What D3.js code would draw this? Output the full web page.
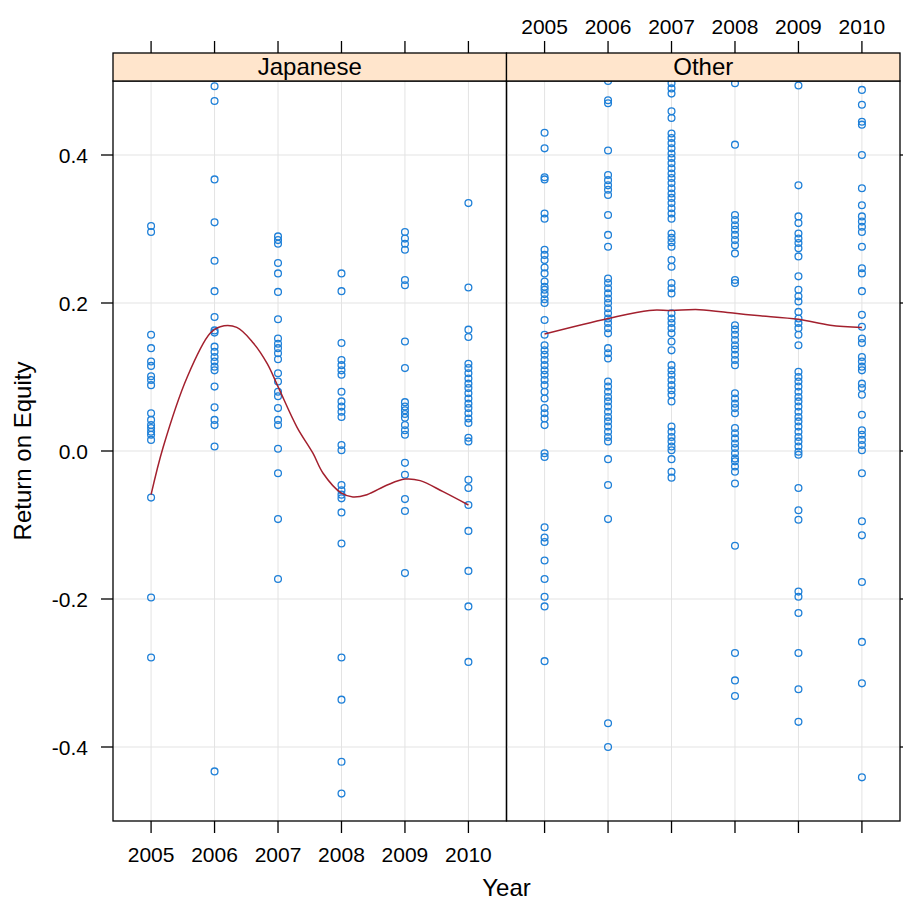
<!DOCTYPE html>
<html>
<head>
<meta charset="utf-8">
<script src="https://cdnjs.cloudflare.com/ajax/libs/d3/7.8.5/d3.min.js"></script>
<style>
  body { margin: 0; background: #fff; }
  text { font-family: "Liberation Sans", Arial, sans-serif; fill: #000; }
</style>
</head>
<body>
<svg id="chart"></svg>
<script>
// panels + years
const panels = ["Japanese", "Other"];
const years = [2005, 2006, 2007, 2008, 2009, 2010];
const yTicks = [-0.4, -0.2, 0.0, 0.2, 0.4];
const yTickLabels = ["-0.4", "-0.2", "0.0", "0.2", "0.4"];

// Japanese firms, return on equity per year
const jp2005 = [0.304, 0.296, 0.157, 0.139, 0.121, 0.115, 0.101, 0.096, 0.089, 0.051, 0.042, 0.035, 0.031, 0.026, 0.022, 0.015, -0.063, -0.198, -0.279];
const jp2006 = [0.493, 0.473, 0.367, 0.309, 0.257, 0.216, 0.181, 0.163, 0.160, 0.141, 0.134, 0.127, 0.121, 0.114, 0.109, 0.087, 0.059, 0.042, 0.035, 0.006, -0.433];
const jp2007 = [0.290, 0.285, 0.280, 0.254, 0.240, 0.215, 0.178, 0.152, 0.145, 0.139, 0.132, 0.124, 0.105, 0.094, 0.080, 0.074, 0.058, 0.042, 0.035, 0.003, -0.030, -0.092, -0.173];
const jp2008 = [0.240, 0.216, 0.146, 0.123, 0.116, 0.109, 0.103, 0.080, 0.067, 0.060, 0.053, 0.046, 0.008, 0.001, -0.046, -0.053, -0.059, -0.064, -0.083, -0.125, -0.279, -0.336, -0.420, -0.463];
const jp2009 = [0.296, 0.287, 0.280, 0.272, 0.231, 0.224, 0.148, 0.112, 0.066, 0.060, 0.055, 0.050, 0.045, 0.035, 0.028, 0.022, -0.016, -0.032, -0.065, -0.081, -0.165];
const jp2010 = [0.335, 0.221, 0.164, 0.154, 0.118, 0.112, 0.105, 0.098, 0.091, 0.085, 0.078, 0.071, 0.064, 0.058, 0.051, 0.044, 0.038, 0.018, 0.013, -0.039, -0.050, -0.073, -0.108, -0.162, -0.210, -0.285];

// other firms
const ot2005 = [0.430, 0.409, 0.370, 0.367, 0.321, 0.314, 0.272, 0.265, 0.258, 0.248, 0.240, 0.229, 0.222, 0.218, 0.212, 0.205, 0.200, 0.177, 0.157, 0.143, 0.136, 0.130, 0.123, 0.116, 0.109, 0.103, 0.096, 0.089, 0.080, 0.071, 0.058, 0.051, 0.044, 0.035, -0.003, -0.008, -0.103, -0.117, -0.123, -0.148, -0.173, -0.197, -0.210, -0.284];
const ot2006 = [0.500, 0.474, 0.470, 0.406, 0.373, 0.366, 0.359, 0.353, 0.346, 0.319, 0.292, 0.276, 0.233, 0.227, 0.220, 0.213, 0.206, 0.200, 0.193, 0.186, 0.179, 0.173, 0.166, 0.159, 0.139, 0.132, 0.125, 0.094, 0.087, 0.080, 0.073, 0.067, 0.060, 0.053, 0.046, 0.040, 0.033, 0.026, 0.019, 0.013, -0.011, -0.046, -0.092, -0.368, -0.400];
const ot2007 = [0.497, 0.490, 0.483, 0.459, 0.450, 0.429, 0.423, 0.416, 0.409, 0.402, 0.396, 0.389, 0.382, 0.375, 0.369, 0.362, 0.355, 0.348, 0.342, 0.335, 0.328, 0.321, 0.314, 0.294, 0.288, 0.282, 0.276, 0.258, 0.249, 0.227, 0.220, 0.213, 0.186, 0.179, 0.173, 0.166, 0.159, 0.148, 0.136, 0.116, 0.109, 0.103, 0.096, 0.089, 0.082, 0.076, 0.067, 0.033, 0.026, 0.019, 0.013, 0.006, 0.001, -0.011, -0.028, -0.036];
const ot2008 = [0.497, 0.414, 0.319, 0.312, 0.305, 0.299, 0.292, 0.285, 0.278, 0.267, 0.231, 0.227, 0.170, 0.164, 0.157, 0.150, 0.143, 0.137, 0.130, 0.123, 0.116, 0.078, 0.071, 0.064, 0.058, 0.051, 0.031, 0.024, 0.017, 0.010, 0.004, -0.003, -0.010, -0.014, -0.021, -0.028, -0.044, -0.128, -0.273, -0.310, -0.331];
const ot2009 = [0.494, 0.359, 0.317, 0.308, 0.294, 0.287, 0.281, 0.274, 0.263, 0.236, 0.218, 0.209, 0.202, 0.188, 0.179, 0.173, 0.166, 0.157, 0.143, 0.107, 0.100, 0.094, 0.087, 0.080, 0.073, 0.067, 0.060, 0.053, 0.046, 0.040, 0.033, 0.026, 0.019, 0.013, 0.006, -0.001, -0.005, -0.050, -0.080, -0.093, -0.190, -0.197, -0.219, -0.273, -0.322, -0.366];
const ot2010 = [0.488, 0.468, 0.445, 0.441, 0.400, 0.355, 0.332, 0.317, 0.310, 0.303, 0.296, 0.276, 0.247, 0.240, 0.216, 0.184, 0.168, 0.152, 0.146, 0.127, 0.121, 0.114, 0.109, 0.091, 0.085, 0.076, 0.049, 0.028, 0.022, 0.015, 0.008, 0.001, -0.030, -0.095, -0.114, -0.177, -0.258, -0.314, -0.441];

// smoother lines
const jpSmoothYear = [2005, 2005.19, 2005.57, 2005.93, 2006.09, 2006.35, 2006.61, 2006.83, 2007, 2007.3, 2007.55, 2007.71, 2008, 2008.18, 2008.4, 2008.72, 2009, 2009.24, 2009.6, 2010];
const jpSmoothRoe = [-0.059, 0.005, 0.100, 0.159, 0.168, 0.167, 0.146, 0.118, 0.087, 0.032, -0.003, -0.030, -0.057, -0.062, -0.059, -0.046, -0.038, -0.040, -0.055, -0.073];
const otSmoothYear = [2005, 2006, 2006.65, 2007, 2007.44, 2008, 2008.35, 2009, 2009.5, 2010];
const otSmoothRoe = [0.158, 0.179, 0.190, 0.190, 0.191, 0.186, 0.183, 0.178, 0.170, 0.167];

const jpCols = [jp2005, jp2006, jp2007, jp2008, jp2009, jp2010];
const otCols = [ot2005, ot2006, ot2007, ot2008, ot2009, ot2010];

const W = 903, H = 903;
const plotLeft = 113, panelW = 393.5, plotTop = 81, plotBottom = 821, stripH = 28;
const tickLen = 12;
const pointCol = "#1f80d8", lineCol = "#a3202e", gridCol = "#e3e3e3";

const svg = d3.select("#chart").attr("width", W).attr("height", H);
svg.append("rect").attr("width", W).attr("height", H).attr("fill", "#fff");

const y = d3.scaleLinear().domain([-0.5, 0.5]).range([plotBottom, plotTop]);

function drawPanel(i, cols, smYear, smRoe) {
    let x0 = plotLeft + i * panelW;
    let x = d3.scaleLinear().domain([2004.4, 2010.6]).range([x0, x0 + panelW]);
    let g = svg.append("g");

    g.append("clipPath").attr("id", "clip" + i)
        .append("rect").attr("x", x0).attr("y", plotTop).attr("width", panelW).attr("height", plotBottom - plotTop);

    // grid
    g.selectAll(".vg").data(years).enter().append("line")
        .attr("x1", d => x(d)).attr("x2", d => x(d)).attr("y1", plotTop).attr("y2", plotBottom)
        .attr("stroke", gridCol).attr("stroke-width", 1);
    g.selectAll(".hg").data(yTicks).enter().append("line")
        .attr("x1", x0).attr("x2", x0 + panelW).attr("y1", d => y(d)).attr("y2", d => y(d))
        .attr("stroke", gridCol).attr("stroke-width", 1);

    let pts = [];
    cols.forEach((vals, j) => vals.forEach(v => pts.push({ yr: years[j], v: v })));

    g.append("g").attr("clip-path", `url(#clip${i})`)
        .selectAll("circle").data(pts).enter().append("circle")
        .attr("cx", d => x(d.yr)).attr("cy", d => y(d.v)).attr("r", 3.4)
        .attr("fill", "none").attr("stroke", pointCol).attr("stroke-width", 1.3);

    let line = d3.line().x(d => x(d[0])).y(d => y(d[1])).curve(d3.curveCatmullRom);
    g.append("path").datum(smYear.map((yr, k) => [yr, smRoe[k]]))
        .attr("d", line).attr("fill", "none").attr("stroke", lineCol).attr("stroke-width", 1.5);

    // frame
    g.append("rect").attr("x", x0).attr("y", plotTop).attr("width", panelW).attr("height", plotBottom - plotTop)
        .attr("fill", "none").attr("stroke", "#000").attr("stroke-width", 1.3);

    // strip
    g.append("rect").attr("x", x0).attr("y", plotTop - stripH).attr("width", panelW).attr("height", stripH)
        .attr("fill", "#ffe5cc").attr("stroke", "#000").attr("stroke-width", 1.3);
    g.append("text").attr("x", x0 + panelW / 2).attr("y", plotTop - 6)
        .attr("text-anchor", "middle").style("font-size", "24px").text(panels[i]);

    // x ticks top and bottom
    g.selectAll(".tt").data(years).enter().append("line")
        .attr("x1", d => x(d)).attr("x2", d => x(d))
        .attr("y1", plotTop - stripH).attr("y2", plotTop - stripH - tickLen)
        .attr("stroke", "#000").attr("stroke-width", 1.3);
    g.selectAll(".bt").data(years).enter().append("line")
        .attr("x1", d => x(d)).attr("x2", d => x(d))
        .attr("y1", plotBottom).attr("y2", plotBottom + tickLen)
        .attr("stroke", "#000").attr("stroke-width", 1.3);

    // labels alternate: bottom on first panel, top on second
    if (i == 0) {
        g.selectAll(".bl").data(years).enter().append("text")
            .attr("x", d => x(d)).attr("y", 862).attr("text-anchor", "middle")
            .style("font-size", "21px").text(d => d);
    } else {
        g.selectAll(".tl").data(years).enter().append("text")
            .attr("x", d => x(d)).attr("y", 34).attr("text-anchor", "middle")
            .style("font-size", "21px").text(d => d);
    }
}

drawPanel(0, jpCols, jpSmoothYear, jpSmoothRoe);
drawPanel(1, otCols, otSmoothYear, otSmoothRoe);

// y axis left (labels) and right (ticks only)
let yAx = svg.append("g");
yAx.selectAll(".lt").data(yTicks).enter().append("line")
    .attr("x1", plotLeft - tickLen).attr("x2", plotLeft).attr("y1", d => y(d)).attr("y2", d => y(d))
    .attr("stroke", "#000").attr("stroke-width", 1.3);
yAx.selectAll(".rt").data(yTicks).enter().append("line")
    .attr("x1", plotLeft + 2 * panelW).attr("x2", plotLeft + 2 * panelW + tickLen).attr("y1", d => y(d)).attr("y2", d => y(d))
    .attr("stroke", "#000").attr("stroke-width", 1.3);
yAx.selectAll(".yl").data(yTicks).enter().append("text")
    .attr("x", 88).attr("y", d => y(d)).attr("dy", "0.36em").attr("text-anchor", "end")
    .style("font-size", "21px").text((d, k) => yTickLabels[k]);

// axis titles
svg.append("text").attr("x", plotLeft + panelW).attr("y", 896).attr("text-anchor", "middle")
    .style("font-size", "24px").text("Year");
svg.append("text").attr("transform", `translate(31,${(plotTop + plotBottom) / 2}) rotate(-90)`)
    .attr("text-anchor", "middle").style("font-size", "24px").text("Return on Equity");
</script>
</body>
</html>
